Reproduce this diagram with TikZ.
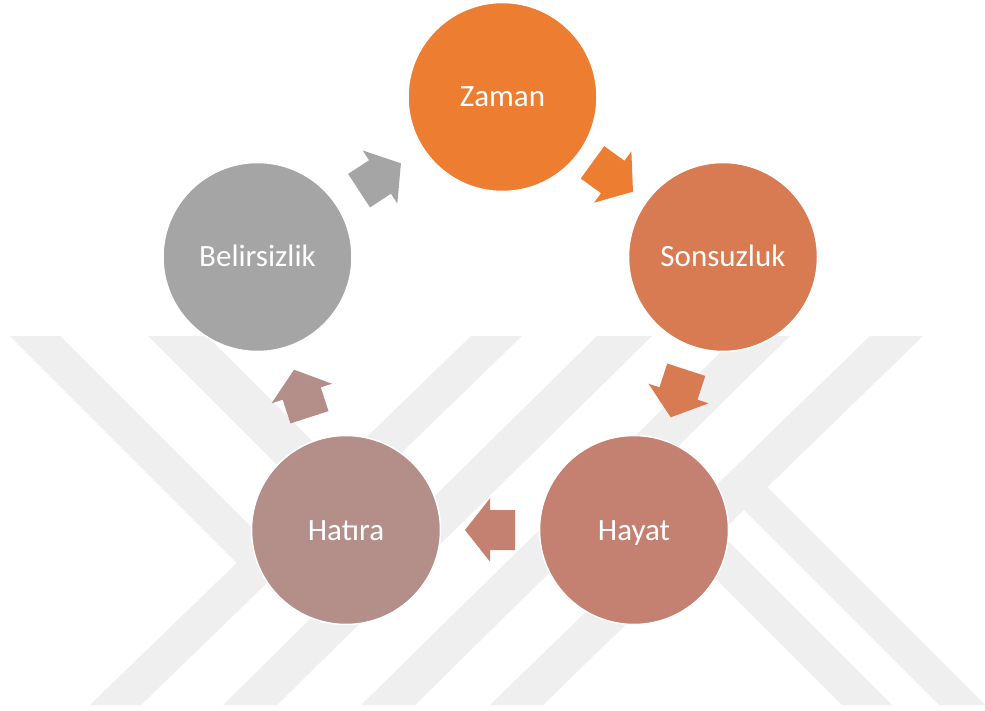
\documentclass[tikz,border=0pt]{standalone}
\usepackage{fontspec}
\setmainfont{Carlito}
\usetikzlibrary{calc}
\definecolor{cZaman}{RGB}{237,125,49}
\definecolor{cSons}{RGB}{216,123,82}
\definecolor{cHayat}{RGB}{196,128,112}
\definecolor{cHatira}{RGB}{180,142,136}
\definecolor{cBelir}{RGB}{165,165,165}
\definecolor{wm}{RGB}{239,239,239}
\begin{document}
\begin{tikzpicture}[x=1pt,y=-1pt,
  bubble/.style={circle, minimum size=189pt, inner sep=0pt, draw=white, line width=1.5pt,
    text=white, font=\fontsize{31}{37}\selectfont, text height=20pt, text depth=0pt},
  stripe/.style={fill=wm},
  barrow/.pic={\fill[#1] (-25,-20) -- (0,-20) -- (0,-31.7) -- (25,0) -- (0,31.7) -- (0,20) -- (-25,20) -- cycle;}
]
\useasboundingbox (0,0) rectangle (985,711);
\fill[white] (0,0) rectangle (985,711);
% watermark stripes
\fill[stripe] (471,336) -- (522,336) -- (141,705) -- (90,705) -- cycle;
\fill[stripe] (597,336) -- (652,336) -- (277,705) -- (223,705) -- cycle;
\fill[stripe] (737,336) -- (790,336) -- (415,705) -- (361,705) -- cycle;
\fill[stripe] (870,336) -- (923,336) -- (543,705) -- (490,705) -- cycle;
\fill[stripe] (10,336) -- (60,336) -- (274.8,550.8) -- (249.4,575.4) -- cycle;
\fill[stripe] (148,336) -- (207,336) -- (414.2,543.2) -- (384.5,572.5) -- cycle;
\fill[stripe] (730.8,496.8) -- (754.2,474.2) -- (985,705) -- (939,705) -- cycle;
\fill[stripe] (617,480) -- (642.2,455.2) -- (892,705) -- (842,705) -- cycle;
% circles
\node[bubble, fill=cZaman] (zaman) at (502.5,97) {Zaman};
\node[bubble, fill=cSons] (sons) at (723,257) {Sonsuzluk};
\node[bubble, fill=cHayat] (hayat) at (634,530) {Hayat};
\node[bubble, fill=cHatira] (hatira) at (346,530) {Hatıra};
\node[bubble, fill=cBelir] (belir) at (257.5,257) {Belirsizlik};
% block arrows
\foreach \a/\b/\c in {zaman/sons/cZaman, sons/hayat/cSons, hayat/hatira/cHayat, hatira/belir/cHatira, belir/zaman/cBelir}
  \path let \p1=(\a.center), \p2=(\b.center), \n1={atan2(\y2-\y1,\x2-\x1)} in
    pic[rotate=\n1] at ($(\p1)!0.5!(\p2)$) {barrow=\c};
\end{tikzpicture}
\end{document}
